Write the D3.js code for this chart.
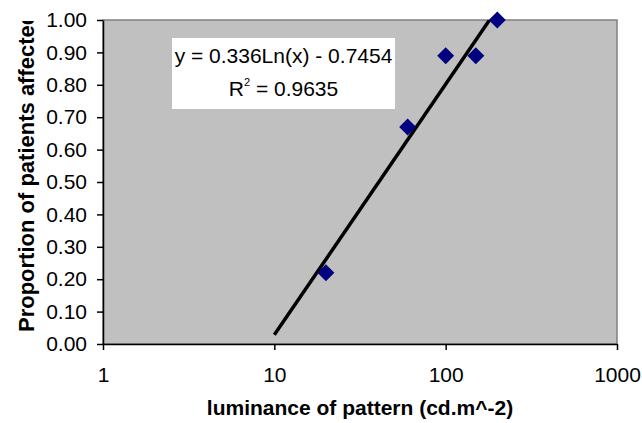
<!DOCTYPE html>
<html>
<head>
<meta charset="utf-8">
<script src="https://cdn.jsdelivr.net/npm/d3@7"></script>
<style>
  body { margin: 0; background: #fff; }
  svg { display: block; font-family: Arial, "Liberation Sans", sans-serif; }
  .axis text { font-size: 21px; fill: #000; }
  .axis path, .axis line { stroke: #000; stroke-width: 1.5px; }
</style>
</head>
<body>
<div id="chart"></div>
<script>
// data
var luminance = [20, 60, 100, 150, 200];
var proportion = [0.22, 0.67, 0.89, 0.89, 1.00];
var xTicks = [1, 10, 100, 1000];
var yTicks = [0, 0.1, 0.2, 0.3, 0.4, 0.5, 0.6, 0.7, 0.8, 0.9, 1.0];
// log trendline y = a*ln(x) + b, drawn between these x values
var trendCoef = [0.336, -0.7454];
var trendRange = [10, 200];
var equationLine = "y = 0.336Ln(x) - 0.7454";
var r2Value = "0.9635";

var W = 642, H = 423;
var margin = {top: 20, right: 25, bottom: 79, left: 103},
    width = W - margin.left - margin.right,
    height = H - margin.top - margin.bottom;

var svg = d3.select("#chart").append("svg")
    .attr("width", W)
    .attr("height", H);

var defs = svg.append("defs");
defs.append("clipPath").attr("id", "plotclip")
  .append("rect").attr("width", width).attr("height", height);
// the y title runs off the top of the chart, as in the original
defs.append("clipPath").attr("id", "labelclip")
  .append("rect").attr("x", 0).attr("y", 21).attr("width", 60).attr("height", H);

var g = svg.append("g")
    .attr("transform", "translate(" + margin.left + "," + margin.top + ")");

var x = d3.scaleLog().domain([1, 1000]).range([0, width]);
var y = d3.scaleLinear().domain([0, 1]).range([height, 0]);

// plot area
g.append("rect")
  .attr("width", width)
  .attr("height", height)
  .attr("fill", "#c0c0c0")
  .attr("stroke", "#808080")
  .attr("stroke-width", 1.5);

// trendline
var trend = trendRange.map(function(v) { return [v, trendCoef[0] * Math.log(v) + trendCoef[1]]; });
g.append("path")
  .datum(trend)
  .attr("clip-path", "url(#plotclip)")
  .attr("fill", "none")
  .attr("stroke", "#000")
  .attr("stroke-width", 3.5)
  .attr("d", d3.line().x(function(d) { return x(d[0]); }).y(function(d) { return y(d[1]); }));

// markers
g.selectAll(".pt")
  .data(luminance)
  .enter()
  .append("path")
    .attr("class", "pt")
    .attr("transform", function(d, i) { return "translate(" + x(d) + "," + y(proportion[i]) + ") rotate(45)"; })
    .attr("d", d3.symbol().type(d3.symbolSquare).size(144))
    .attr("fill", "#000080");

// axes
g.append("g")
  .attr("class", "axis")
  .call(d3.axisLeft(y).tickValues(yTicks).tickFormat(d3.format(".2f")).tickSizeInner(6).tickSizeOuter(0).tickPadding(10));

g.append("g")
  .attr("class", "axis")
  .attr("transform", "translate(0," + height + ")")
  .call(d3.axisBottom(x).tickValues(xTicks).tickFormat(d3.format("d")).tickSizeInner(6).tickSizeOuter(0).tickPadding(17));

// equation box
var box = g.append("g").attr("transform", "translate(" + (172 - margin.left) + "," + (38 - margin.top) + ")");
box.append("rect").attr("width", 223).attr("height", 71).attr("fill", "#fff");
box.append("text")
  .attr("x", 111.5).attr("y", 25)
  .attr("text-anchor", "middle")
  .style("font-size", "21px")
  .text(equationLine);
var r2 = box.append("text")
  .attr("x", 111.5).attr("y", 58)
  .attr("text-anchor", "middle")
  .style("font-size", "21px");
r2.append("tspan").text("R");
r2.append("tspan").attr("dy", -10).style("font-size", "11px").text("2");
r2.append("tspan").attr("dy", 10).text(" = " + r2Value);

// axis titles
svg.append("text")
  .attr("x", 360)
  .attr("y", 415)
  .attr("text-anchor", "middle")
  .style("font-size", "21px")
  .style("font-weight", "bold")
  .text("luminance of pattern (cd.m^-2)");

svg.append("g").attr("clip-path", "url(#labelclip)")
  .append("text")
  .attr("transform", "translate(34,332) rotate(-90)")
  .attr("text-anchor", "start")
  .style("font-size", "22px")
  .style("font-weight", "bold")
  .text("Proportion of patients affected");
</script>
</body>
</html>
